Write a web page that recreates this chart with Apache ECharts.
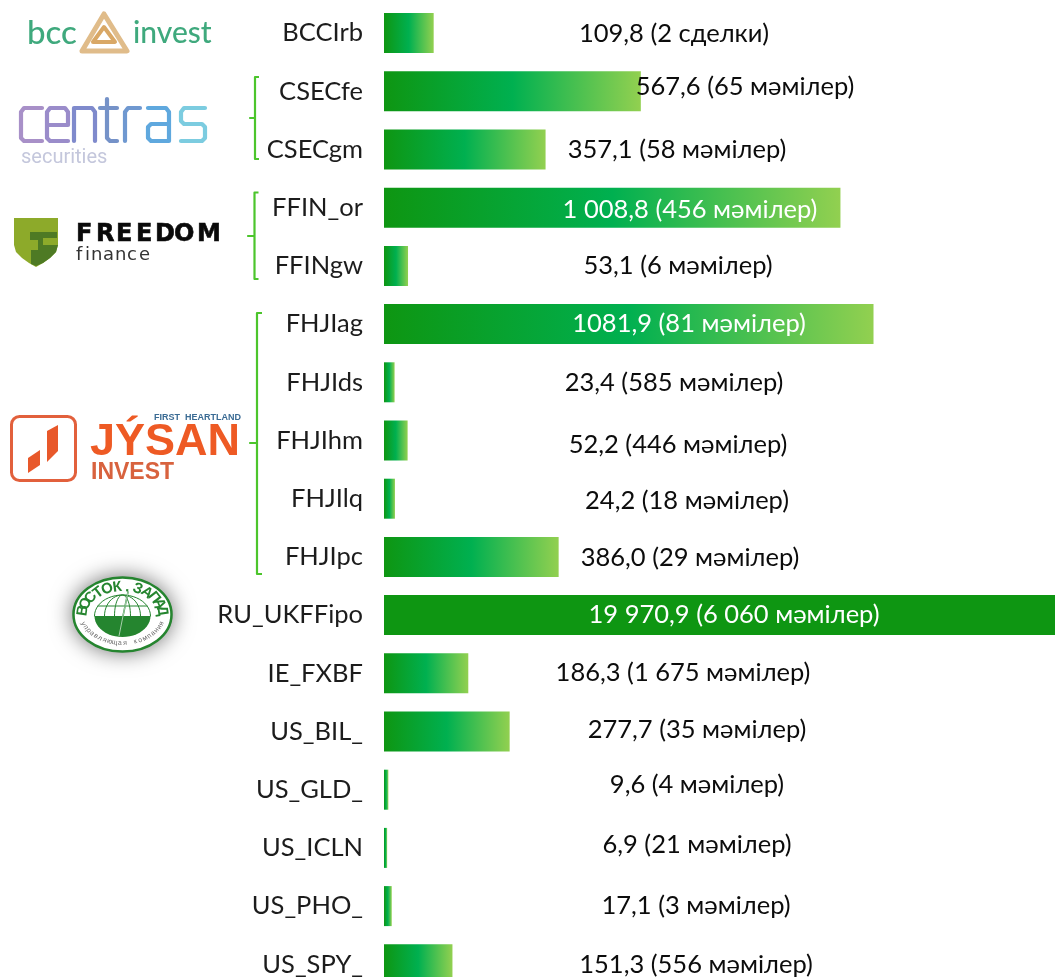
<!DOCTYPE html>
<html><head><meta charset="utf-8">
<style>html,body{margin:0;padding:0;background:#fff;overflow:hidden;height:977px}#c{width:1055px;height:1000px}</style>
<script src="https://cdn.jsdelivr.net/npm/echarts@6/dist/echarts.min.js"></script>
</head><body><div id="c"></div>
<script>
const categories = ['BCCIrb','CSECfe','CSECgm','FFIN_or','FFINgw','FHJIag','FHJIds','FHJIhm','FHJIlq','FHJIpc','RU_UKFFipo','IE_FXBF','US_BIL_','US_GLD_','US_ICLN','US_PHO_','US_SPY_'];
const volumes = [109.8,567.6,357.1,1008.8,53.1,1081.9,23.4,52.2,24.2,386.0,19970.9,186.3,277.7,9.6,6.9,17.1,151.3];
const valueLabels = ['109,8 (2 сделки)','567,6 (65 мәмілер)','357,1 (58 мәмілер)','1 008,8 (456 мәмілер)','53,1 (6 мәмілер)','1081,9 (81 мәмілер)','23,4 (585 мәмілер)','52,2 (446 мәмілер)','24,2 (18 мәмілер)','386,0 (29 мәмілер)','19 970,9 (6 060 мәмілер)','186,3 (1 675 мәмілер)','277,7 (35 мәмілер)','9,6 (4 мәмілер)','6,9 (21 мәмілер)','17,1 (3 мәмілер)','151,3 (556 мәмілер)'];
const labelCenterX = [674,745,677,690,678,689,674,678,687,690,734,683,697,697,697,696,696];
const labelCenterY = [34,87,150,210,266,324,383,445,501,558,615,673,730,785,845,906,965];
const whiteLabels = ['FFIN_or','FHJIag','RU_UKFFipo'];
const solidBars = ['RU_UKFFipo'];

const FONT = 'Lato, "Noto Sans", sans-serif';
const GRID_L = 384, GRID_T = 4, ROW = 58.2, AXIS_W = 671, AXIS_MAX = 1483;

const barGrad = {type:'linear',x:0,y:0,x2:1,y2:0,colorStops:[{offset:0,color:'#0E9612'},{offset:0.5,color:'#00B050'},{offset:1,color:'#92D050'}]};

const seriesData = volumes.map((v,i)=>{
  const barTop = GRID_T + ROW*i + (ROW-40)/2;
  return {value:v,
    itemStyle:{color:solidBars.includes(categories[i])?'#0E9612':barGrad},
    label:{show:true,formatter:valueLabels[i],position:[labelCenterX[i]-GRID_L,labelCenterY[i]-barTop],
      align:'center',verticalAlign:'middle',fontFamily:FONT,fontSize:25.5,
      color:whiteLabels.includes(categories[i])?'#fff':'#0c0c0c'}};
});

function bracket(x,y0,y1,yt,xt,serif){
  return {type:'polyline',silent:true,shape:{points:[[x+serif,y0],[x,y0],[x,yt],[xt,yt],[x,yt],[x,y1],[x+serif,y1]]},
    style:{stroke:'#4CC52C',lineWidth:2.2,fill:null,lineJoin:'round'}};
}
function txt(x,y,t,size,color,weight,family,align){
  return {type:'text',silent:true,x,y,style:{text:t,font:`${weight||'normal'} ${size}px ${family||FONT}`,fill:color,align:align||'left',verticalAlign:'middle'}};
}
function spaced(letters,xs,y,size,colors,weight,family){
  return letters.split('').map((c,i)=>txt(xs[i],y,c,size,Array.isArray(colors)?colors[i]:colors,weight,family));
}
function poly(points,fill){return {type:'polygon',silent:true,shape:{points},style:{fill}};}
function pline(points,stroke,w){return {type:'polyline',silent:true,shape:{points},style:{fill:null,stroke,lineWidth:w,lineJoin:'round',lineCap:'round'}};}
function arcPts(cx,cy,rx,ry,a0,a1){const p=[];for(let i=0;i<=24;i++){const a=(a0+(a1-a0)*i/24)*Math.PI/180;p.push([cx+rx*Math.cos(a),cy+ry*Math.sin(a)]);}return p;}
const g = [];
// brackets
g.push(bracket(255,77,159,118,250,4));
g.push(bracket(254.5,192.5,279,236,248,4));
g.push(bracket(257,313,574,443,250,5));
// bcc invest logo
g.push(txt(27,33,'bcc',33,'#3FA97D','500','Lato'));
g.push(txt(133,33,'invest',30,'#3FA97D','500','Lato'));
g.push({type:'polygon',silent:true,shape:{points:[[104,14],[127,51],[82,51]]},style:{fill:null,stroke:'#E0BC8A',lineWidth:5,lineJoin:'round'}});
g.push({type:'polygon',silent:true,shape:{points:[[104,27],[115,42],[93,42]]},style:{fill:null,stroke:'#D9A866',lineWidth:4,lineJoin:'round'}});
// centras logo
const cW = 4.2;
g.push(pline([[42,108],[24,108],[21,112],[21,138],[24,141],[42,141]],'#A890C8',cW));
g.push(pline([[47,125],[68,125],[68,112],[65,108],[50,108],[47,112],[47,138],[50,141],[68,141]],'#9A8CCA',cW));
g.push(pline([[74,141],[74,108],[92,108],[95,112],[95,141]],'#7F8ACC',cW));
g.push(pline([[107,99],[107,138],[110,141],[117,141]],'#7592C8',cW));
g.push(pline([[100,108],[117,108]],'#7592C8',cW));
g.push(pline([[125,141],[125,112],[128,108],[140,108]],'#6F98D0',cW));
g.push(pline([[148,108],[166,108],[169,112],[169,141],[151,141],[148,138],[148,127],[151,124],[169,124]],'#5FA8DE',cW));
g.push(pline([[205,108],[184,108],[181,112],[181,121],[184,124],[202,124],[205,127],[205,138],[202,141],[181,141]],'#7CCCE0',cW));
g.push(txt(21,158,'securities',20,'#C4C7DC','normal','Roboto'));
// freedom finance logo
g.push(poly([[14,218],[58,218],[58,245],[56,252],[50,258],[43,263],[36,267],[29,263],[22,258],[16,252],[14,245]],'#8DAA2A'));
g.push(poly([[30,232],[57,232],[57,238],[43,238],[43,245],[58,245],[56,252],[50,258],[43,263],[36,266],[31,264],[31,250],[38,250],[38,240],[30,240]],'#4E7A24'));
spaced('FREEDOM',[76,96,116,136,155,174,197],235,24,'#0A0A0A','bold','"DejaVu Sans"').forEach(t=>{t.style.stroke='#0A0A0A';t.style.lineWidth=0.6;g.push(t);});
g.push(...spaced('finance',[76,85,91,103,115,127,139],255,18,'#333','normal','"DejaVu Sans"'));
// jysan logo
g.push({type:'rect',silent:true,shape:{x:11.5,y:416.5,width:64,height:64,r:8},style:{fill:null,stroke:'#E2603C',lineWidth:3}});
g.push(poly([[47,431],[58,425],[58,451],[47,462]],'#E8582A'));
g.push(poly([[28,458],[40,450],[40,465],[28,473]],'#E8582A'));
g.push(txt(154,418,'FIRST  HEARTLAND',9,'#3A6B94','bold','"Liberation Sans"'));
g.push(txt(90,443,'JÝSAN',45,'#EE5A24','bold','"Liberation Sans"'));
g.push(txt(91,473,'INVEST',23,'#D8623E','bold','"Liberation Sans"'));
// vostok-zapad logo
const V='#25852F';
g.push({type:'ellipse',silent:true,shape:{cx:122.5,cy:614.5,rx:50,ry:38},style:{fill:'#aaa',shadowBlur:22,shadowColor:'rgba(110,110,110,1)'}});
g.push({type:'ellipse',silent:true,shape:{cx:122.5,cy:614.5,rx:49,ry:37},style:{fill:'#fff',stroke:V,lineWidth:2.5}});
g.push(poly([[95,616],...arcPts(122.5,616,28,21,180,0)],V));
g.push(pline(arcPts(122.5,616,28,21,180,360),V,1));
g.push(pline(arcPts(122.5,616,18,21,180,360),V,1));
g.push(pline(arcPts(122.5,616,8,21,180,360),V,1));
g.push(pline([[98,606],[147,606]],V,1));
g.push(pline([[128,592],[123,616],[119,636]],V,1.5));
g.push(pline([[128,592],[123,616],[119,636]],'#fff',0.6));
'ВОСТОК.ЗАПАД'.split('').forEach((c,i)=>{
  const a = (-172 + i*(164/11))*Math.PI/180;
  const px = 122.5+40*Math.cos(a), py = 614.5+27.5*Math.sin(a);
  g.push({type:'text',silent:true,x:px,y:py,rotation:-(a+Math.PI/2),style:{text:c,font:'bold 15px "Liberation Sans"',fill:V,align:'center',verticalAlign:'middle'}});
});
const sub='управляющая компания';
sub.split('').forEach((c,i)=>{
  const a = (158 - i*(136/(sub.length-1)))*Math.PI/180;
  const px = 122.5+42*Math.cos(a), py = 612+31*Math.sin(a);
  g.push({type:'text',silent:true,x:px,y:py,rotation:-(a-Math.PI/2),style:{text:c,font:'7px "Liberation Sans"',fill:'#6a6a6a',align:'center',verticalAlign:'middle'}});
});

const chart = echarts.init(document.getElementById('c'),null,{renderer:'canvas'});
chart.setOption({
  animation:false,
  backgroundColor:'#fff',
  grid:{left:GRID_L,top:GRID_T,width:AXIS_W,height:ROW*categories.length,containLabel:false},
  xAxis:{type:'value',min:0,max:AXIS_MAX,show:false},
  yAxis:{type:'category',inverse:true,data:categories,
    axisLine:{show:false},axisTick:{show:false},splitLine:{show:false},
    axisLabel:{margin:21,fontFamily:FONT,fontSize:25.5,color:'#1c1c1c',align:'right'}},
  series:[{type:'bar',barWidth:40,data:seriesData,clip:true}],
  graphic:{elements:g}
});
</script></body></html>
